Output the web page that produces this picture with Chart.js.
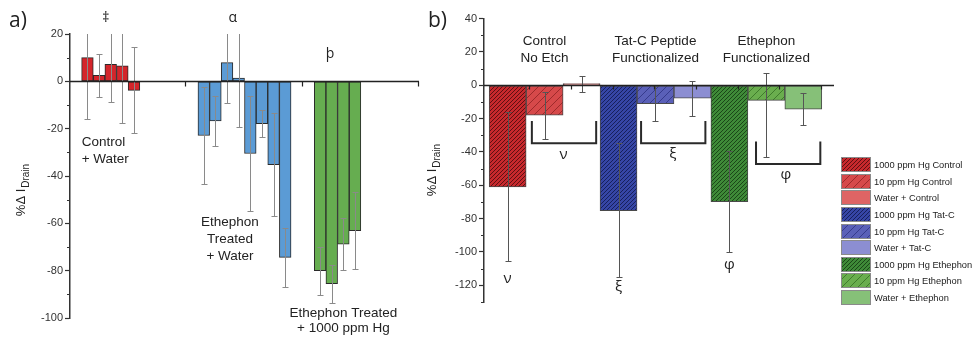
<!DOCTYPE html>
<html><head><meta charset="utf-8">
<script src="https://cdn.jsdelivr.net/npm/chart.js@4/dist/chart.umd.min.js"></script>
<style>
html,body{margin:0;padding:0;background:#fff;}
#wrap{position:relative;width:973px;height:337px;overflow:hidden;background:#fff;}
canvas{position:absolute;top:0;}
#ca{left:0;} #cb{left:425px;}
</style></head><body>
<div id="wrap"><canvas id="ca" width="425" height="337"></canvas><canvas id="cb" width="548" height="337"></canvas></div>
<script>
// ---------- Panel a data ----------
const aGroups = ['Control + Water', 'Ethephon Treated + Water', 'Ethephon Treated + 1000 ppm Hg'];
const aControlWater = [10, 2.5, 7.2, 6.6, -3.8];
const aControlWaterErr = [26, 9, 15.8, 24, 18.2];
const aEthWater = [-22.9, -16.7, 7.9, 1.4, -30.5, -17.9, -35.2, -74.4];
const aEthWaterErr = [20.6, 10.5, 17.2, 20.8, 24.4, 5.7, 21.7, 12.5];
const aEthHg = [-80, -85.5, -68.8, -63.1];
const aEthHgErr = [10.2, 8, 11.1, 16.2];
const aYTicks = [20, 0, -20, -40, -60, -80, -100];
const aXTicks = [10, 20, 30];

// ---------- Panel b data ----------
const bLabels = ['1000 ppm Hg Control', '10 ppm Hg Control', 'Water + Control',
                 '1000 ppm Hg Tat-C', '10 ppm Hg Tat-C', 'Water + Tat-C',
                 '1000 ppm Hg Ethephon', '10 ppm Hg Ethephon', 'Water + Ethephon'];
const bValues = [-61, -17.9, 1.0, -75.2, -11.0, -7.8, -69.8, -9.1, -14.4];
const bErrUp = [45, 13.7, 4.8, 40.4, 10.7, 10.2, 30.4, 16.7, 9.5];
const bErrDown = [44.6, 14.5, 4.8, 40, 10.7, 10.4, 30, 33.9, 9.5];
const bGroups = [['Control', 'No Etch'], ['Tat-C Peptide', 'Functionalized'], ['Ethephon', 'Functionalized']];
const bYTicks = [40, 20, 0, -20, -40, -60, -80, -100, -120];
const bXTicks = [0.61, 1.74, 2.87, 4.0, 5.12, 6.25, 7.38, 8.51];

Chart.defaults.font.family = '"Liberation Sans", Arial, sans-serif';
const FONT = '"Liberation Sans", Arial, sans-serif';

function hatch(bg, line, s, lw) {
  const c = document.createElement('canvas');
  c.width = s; c.height = s;
  const g = c.getContext('2d');
  g.fillStyle = bg; g.fillRect(0, 0, s, s);
  g.strokeStyle = line; g.lineWidth = lw;
  g.beginPath();
  g.moveTo(-1, s + 1); g.lineTo(s + 1, -1);
  g.moveTo(-1, 1); g.lineTo(1, -1);
  g.moveTo(s - 1, s + 1); g.lineTo(s + 1, s - 1);
  g.stroke();
  return g.createPattern(c, 'repeat');
}

function drawErrors(chart, color, capHalf) {
  const {ctx, chartArea: ca, scales: {y}} = chart;
  ctx.save();
  ctx.beginPath(); ctx.rect(ca.left, ca.top, ca.right - ca.left, ca.bottom - ca.top); ctx.clip();
  ctx.strokeStyle = color; ctx.lineWidth = 1;
  chart.data.datasets.forEach((ds, di) => {
    const meta = chart.getDatasetMeta(di);
    meta.data.forEach((bar, i) => {
      const v = ds.data[i].y;
      const hi = Math.round(y.getPixelForValue(v + ds.errUp[i])) + 0.5;
      const lo = Math.round(y.getPixelForValue(v - ds.errDown[i])) + 0.5;
      const px = Math.round(bar.x) + 0.5;
      ctx.beginPath();
      ctx.moveTo(px, hi); ctx.lineTo(px, lo);
      ctx.moveTo(px - capHalf, hi); ctx.lineTo(px + capHalf, hi);
      ctx.moveTo(px - capHalf, lo); ctx.lineTo(px + capHalf, lo);
      ctx.stroke();
    });
  });
  ctx.restore();
}

function zeroAxis(chart, tickVals, tickLen) {
  const {ctx, chartArea: ca, scales: {x, y}} = chart;
  const y0 = Math.round(y.getPixelForValue(0)) + 0.5;
  ctx.save();
  ctx.strokeStyle = '#222'; ctx.lineWidth = 1.5;
  ctx.beginPath(); ctx.moveTo(ca.left, y0); ctx.lineTo(ca.right, y0); ctx.stroke();
  ctx.lineWidth = 1.2;
  ctx.beginPath();
  tickVals.forEach(v => {
    const px = Math.round(x.getPixelForValue(v)) - 0.5;
    ctx.moveTo(px, y0); ctx.lineTo(px, y0 + tickLen);
  });
  ctx.stroke();
  ctx.restore();
}

function minorTicks(chart, step) {
  const {ctx, chartArea: ca, scales: {y}} = chart;
  ctx.save();
  ctx.strokeStyle = '#333'; ctx.lineWidth = 1.2;
  ctx.beginPath();
  for (let v = Math.ceil(y.min / step) * step; v <= y.max; v += step) {
    if (v % (2 * step) === 0) continue;
    const py = Math.round(y.getPixelForValue(v)) + 0.5;
    ctx.moveTo(ca.left - 3, py); ctx.lineTo(ca.left, py);
  }
  ctx.stroke();
  ctx.restore();
}

function yTitle(ctx, cx, cy) {
  ctx.save();
  ctx.translate(cx, cy); ctx.rotate(-Math.PI / 2);
  const f1 = '13px ' + FONT, f2 = '10px ' + FONT;
  const main = '%\u0394 I', sub = 'Drain';
  ctx.font = f1; const w1 = ctx.measureText(main).width;
  ctx.font = f2; const w2 = ctx.measureText(sub).width;
  const start = -(w1 + w2 + 1) / 2;
  ctx.fillStyle = '#222'; ctx.textAlign = 'left'; ctx.textBaseline = 'alphabetic';
  ctx.font = f1; ctx.fillText(main, start, 0);
  ctx.font = f2; ctx.fillText(sub, start + w1 + 1, 3.5);
  ctx.restore();
}

function txt(ctx, s, px, py, font, align) {
  ctx.save();
  ctx.font = font; ctx.fillStyle = '#222';
  ctx.textAlign = align || 'center'; ctx.textBaseline = 'middle';
  ctx.fillText(s, px, py);
  ctx.restore();
}

// ---------- Panel a ----------
function slotPoints(g, vals) { return vals.map((v, i) => ({x: 10 * g + 1.5 + i, y: v})); }

const panelA = {
  id: 'panelA',
  afterDatasetsDraw(chart) {
    drawErrors(chart, '#8a8a8a', 3);
    zeroAxis(chart, aXTicks, 5);
  },
  afterDraw(chart) {
    const {ctx, chartArea: ca, scales: {x, y}} = chart;
    minorTicks(chart, 10);
    const F = '13.5px ' + FONT, G = '14px "Open Sans", ' + FONT;
    const P = (vx, vy) => [x.getPixelForValue(vx), y.getPixelForValue(vy)];
    let p;
    p = P(3.07, 26.9); txt(ctx, '\u2021', p[0], p[1], G);
    p = P(14.0, 26.8); txt(ctx, '\u03B1', p[0], p[1], G);
    p = P(22.35, 11.6); txt(ctx, '\u00FE', p[0], p[1], G);
    p = P(1.0, -25.9); txt(ctx, 'Control', p[0], p[1], F, 'left');
    p = P(1.0, -32.9); txt(ctx, '+ Water', p[0], p[1], F, 'left');
    p = P(13.75, -59.7); txt(ctx, 'Ethephon', p[0], p[1], F);
    p = P(13.75, -66.7); txt(ctx, 'Treated', p[0], p[1], F);
    p = P(13.75, -73.9); txt(ctx, '+ Water', p[0], p[1], F);
    p = P(23.5, -98.0); txt(ctx, 'Ethephon Treated', p[0], p[1], F);
    p = P(23.5, -104.2); txt(ctx, '+ 1000 ppm Hg', p[0], p[1], F);
    yTitle(ctx, ca.left - 45, 190);
    ctx.save(); ctx.font = '21px "Open Sans", ' + FONT; ctx.fillStyle = '#222';
    ctx.textBaseline = 'alphabetic'; ctx.fillText('a)', 9, 27); ctx.restore();
  }
};

new Chart(document.getElementById('ca'), {
  type: 'bar',
  data: {
    datasets: [
      {label: aGroups[0], data: slotPoints(0, aControlWater), errUp: aControlWaterErr, errDown: aControlWaterErr, backgroundColor: '#d4252b'},
      {label: aGroups[1], data: slotPoints(1, aEthWater), errUp: aEthWaterErr, errDown: aEthWaterErr, backgroundColor: '#5b9bd5'},
      {label: aGroups[2], data: slotPoints(2, aEthHg), errUp: aEthHgErr, errDown: aEthHgErr, backgroundColor: '#66ad50'}
    ]
  },
  options: {
    responsive: false, animation: false, events: [],
    layout: {padding: {left: 0, right: 6, top: 34, bottom: 19}},
    datasets: {bar: {grouped: false, barPercentage: 1, categoryPercentage: 1, borderColor: '#2a2a2a', borderWidth: 1, borderSkipped: false}},
    plugins: {legend: {display: false}, tooltip: {enabled: false}},
    scales: {
      x: {type: 'linear', min: 0, max: 30, display: false, offset: false, grid: {offset: false},
          afterBuildTicks: s => { s.ticks = aXTicks.map(v => ({value: v})); }},
      y: {min: -100, max: 20,
          afterBuildTicks: s => { s.ticks = aYTicks.map(v => ({value: v})); },
          afterFit: s => { s.width = 70; },
          border: {color: '#333', width: 1.5},
          grid: {drawOnChartArea: false, tickLength: 5, tickColor: '#333', tickWidth: 1.2},
          ticks: {font: {size: 11}, color: '#333', padding: 2}}
    }
  },
  plugins: [panelA]
});

// ---------- Panel b ----------
const bFills = [
  hatch('#c8292d', '#5e1012', 4, 1),
  hatch('#d6494a', '#9e2a2b', 8, 1),
  '#de6464',
  hatch('#3646a6', '#17205c', 4, 1),
  hatch('#5a60b8', '#363b8c', 8, 1),
  '#8c8ed2',
  hatch('#3f8a38', '#1b4718', 4, 1),
  hatch('#6aae4e', '#3f7c2c', 8, 1),
  '#86c078'
];

const panelB = {
  id: 'panelB',
  afterDatasetsDraw(chart) {
    drawErrors(chart, '#555', 3);
    zeroAxis(chart, bXTicks, 4);
  },
  afterDraw(chart) {
    const {ctx, chartArea: ca, scales: {x, y}} = chart;
    minorTicks(chart, 10);
    const F = '13.5px ' + FONT, G = '15px "Open Sans", ' + FONT;
    const P = (vx, vy) => [x.getPixelForValue(vx), y.getPixelForValue(vy)];
    let p;
    bGroups.forEach((g, i) => {
      p = P(3 * i + 1, 26.6); txt(ctx, g[0], p[0], p[1], F);
      p = P(3 * i + 1, 16.4); txt(ctx, g[1], p[0], p[1], F);
    });
    // brackets
    const brackets = [[0.655, 2.395, -21.4, -34.8], [3.61, 5.35, -21.4, -34.8], [6.72, 8.46, -33.8, -47.2]];
    ctx.save(); ctx.strokeStyle = '#2a2a2a'; ctx.lineWidth = 2;
    brackets.forEach(b => {
      const x1 = x.getPixelForValue(b[0]), x2 = x.getPixelForValue(b[1]);
      const yt = y.getPixelForValue(b[2]), yb = y.getPixelForValue(b[3]);
      ctx.beginPath(); ctx.moveTo(x1, yt); ctx.lineTo(x1, yb); ctx.lineTo(x2, yb); ctx.lineTo(x2, yt); ctx.stroke();
    });
    ctx.restore();
    p = P(1.51, -41.8); txt(ctx, '\u03BD', p[0], p[1], G);
    p = P(4.47, -40.8); txt(ctx, '\u03BE', p[0], p[1], G);
    p = P(7.53, -53.8); txt(ctx, '\u03C6', p[0], p[1], G);
    p = P(0, -115.8); txt(ctx, '\u03BD', p[0], p[1], G);
    p = P(3, -120.8); txt(ctx, '\u03BE', p[0], p[1], G);
    p = P(6, -107.8); txt(ctx, '\u03C6', p[0], p[1], G);
    yTitle(ctx, ca.left - 48, 170);
    ctx.save(); ctx.font = '21px "Open Sans", ' + FONT; ctx.fillStyle = '#222';
    ctx.textBaseline = 'alphabetic'; ctx.fillText('b)', 3, 27); ctx.restore();
    // legend
    const x0 = ca.right + 7, y0 = 157.3, pitch = 16.55;
    chart.data.datasets.forEach((ds, i) => {
      const yy = Math.round(y0 + i * pitch);
      ctx.save();
      ctx.fillStyle = ds.backgroundColor; ctx.fillRect(x0, yy, 30, 15);
      ctx.strokeStyle = '#8a8a8a'; ctx.lineWidth = 1; ctx.strokeRect(x0 + 0.5, yy + 0.5, 29, 14);
      ctx.fillStyle = '#222'; ctx.font = '9.3px ' + FONT; ctx.textBaseline = 'middle'; ctx.textAlign = 'left';
      ctx.fillText(ds.label, x0 + 33, yy + 8);
      ctx.restore();
    });
  }
};

new Chart(document.getElementById('cb'), {
  type: 'bar',
  data: {
    datasets: bLabels.map((l, i) => ({
      label: l, data: [{x: i, y: bValues[i]}], errUp: [bErrUp[i]], errDown: [bErrDown[i]],
      backgroundColor: bFills[i]
    }))
  },
  options: {
    responsive: false, animation: false, events: [],
    layout: {padding: {left: 0, right: 139, top: 18.5, bottom: 35}},
    datasets: {bar: {grouped: false, barPercentage: 1, categoryPercentage: 1, borderColor: '#4a4a4a', borderWidth: 1, borderSkipped: false}},
    plugins: {legend: {display: false}, tooltip: {enabled: false}},
    scales: {
      x: {type: 'linear', min: -0.64, max: 8.83, display: false, offset: false, grid: {offset: false},
          afterBuildTicks: s => { s.ticks = bXTicks.map(v => ({value: v})); }},
      y: {min: -130, max: 40,
          afterBuildTicks: s => { s.ticks = bYTicks.map(v => ({value: v})); },
          afterFit: s => { s.width = 59; },
          border: {color: '#333', width: 1.5},
          grid: {drawOnChartArea: false, tickLength: 5, tickColor: '#333', tickWidth: 1.2},
          ticks: {font: {size: 11}, color: '#333', padding: 2}}
    }
  },
  plugins: [panelB]
});
</script>
</body></html>
